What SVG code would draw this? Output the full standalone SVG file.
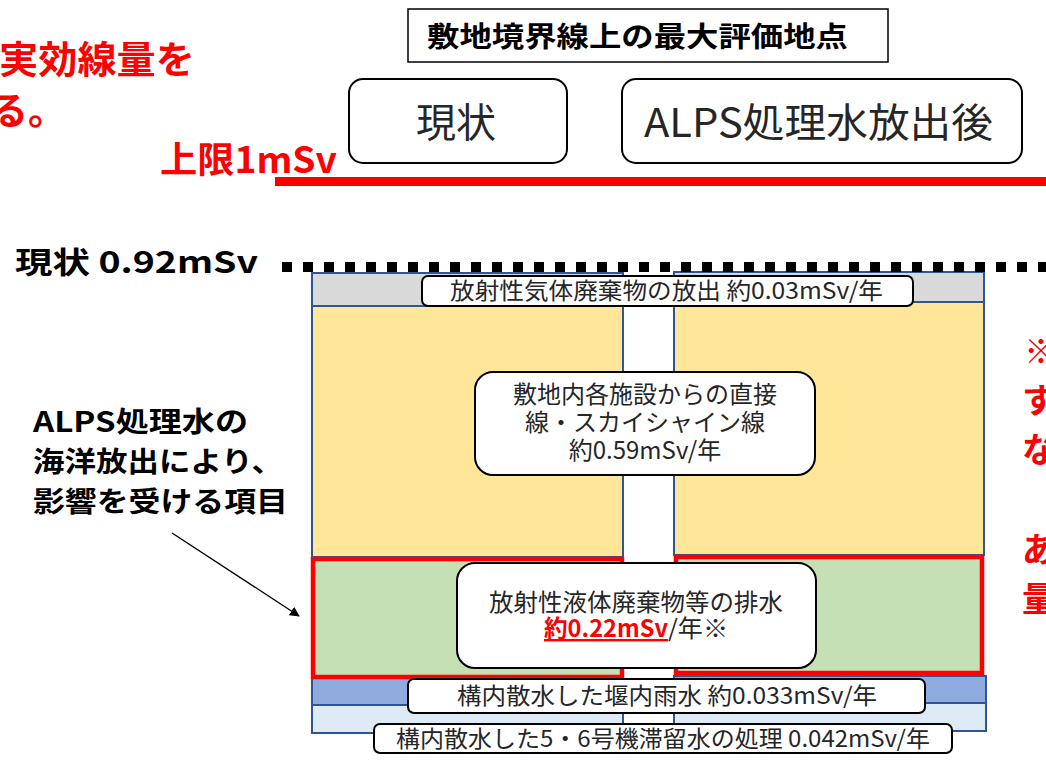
<svg xmlns="http://www.w3.org/2000/svg" width="1046" height="763" viewBox="0 0 1046 763">
<style>
text{font-family:"Noto Sans CJK JP","Noto Sans",sans-serif;}
.red{fill:#FF0000;font-weight:bold;}
.blk{fill:#000;font-weight:bold;}
.lbl{fill:#262626;}
.box{fill:#FFFFFF;stroke:#000;stroke-width:2;}
.col{stroke:#2F5597;stroke-width:2;}
.gray{fill:#D9D9D9;}
.yel{fill:#FFE699;}
.grn{fill:#C5E0B4;stroke:#FF0000;stroke-width:4.5;}
.blu{fill:#8FAADC;}
.lblu{fill:#DEEBF7;}
</style>
<defs>
<marker id="ah" markerWidth="10" markerHeight="10" refX="9" refY="5" orient="auto" markerUnits="userSpaceOnUse" viewBox="0 0 10 10">
<path d="M0,0 L10,5 L0,10 z" fill="#000"/>
</marker>
</defs>
<rect width="1046" height="763" fill="#FFFFFF"/>

<g id="note-top-left">
<text class="red" x="-1" y="73" font-size="38" textLength="196" lengthAdjust="spacingAndGlyphs">実効線量を</text>
<text class="red" x="-10" y="124" font-size="38">る。</text>
</g>

<g id="limit">
<text class="red" x="160" y="173" font-size="36" textLength="177" lengthAdjust="spacingAndGlyphs">上限1mSv</text>
<rect x="275" y="177" width="771" height="9" fill="#FF0000"/>
</g>

<g id="title">
<rect x="408" y="9" width="480" height="53" fill="#FFFFFF" stroke="#000" stroke-width="1.5"/>
<text class="blk" x="427" y="47" font-size="28" textLength="421" lengthAdjust="spacingAndGlyphs">敷地境界線上の最大評価地点</text>
</g>

<g id="head-current">
<rect class="box" x="349" y="79" width="218" height="84" rx="14"/>
<text x="456" y="137" font-size="40" fill="#262626" text-anchor="middle">現状</text>
</g>

<g id="head-after">
<rect class="box" x="622" y="79" width="400" height="84" rx="14"/>
<text x="644" y="137" font-size="40" fill="#262626" textLength="349" lengthAdjust="spacingAndGlyphs">ALPS処理水放出後</text>
</g>

<g id="current-level">
<text class="blk" x="15" y="273" font-size="30" textLength="243" lengthAdjust="spacingAndGlyphs">現状 0.92mSv</text>
</g>

<g id="col-left">
<rect class="col gray" x="312" y="273" width="311" height="33"/>
<rect class="col yel" x="312" y="306" width="311" height="251"/>
<rect class="col blu" x="312" y="678" width="311" height="27"/>
<rect class="col lblu" x="312" y="705" width="311" height="28"/>
<rect class="grn" x="313" y="559" width="309" height="118"/>
</g>

<g id="col-right">
<rect class="col gray" x="674" y="272" width="310" height="30"/>
<rect class="col yel" x="674" y="302" width="310" height="253"/>
<rect class="col blu" x="674" y="676" width="312" height="27"/>
<rect class="col lblu" x="674" y="703" width="312" height="28"/>
<rect class="grn" x="676" y="557" width="306" height="116"/>
</g>

<g id="connectors">
<line x1="282" y1="267" x2="1046" y2="267" stroke="#000" stroke-width="10" stroke-dasharray="10 11"/>
<line x1="172" y1="533" x2="299" y2="616" stroke="#000" stroke-width="1.3" marker-end="url(#ah)"/>
</g>

<g id="label-gas">
<rect class="box" x="422" y="276" width="491" height="30" rx="6"/>
<text class="lbl" x="450" y="299" font-size="23" textLength="433" lengthAdjust="spacingAndGlyphs">放射性気体廃棄物の放出 約0.03mSv/年</text>
</g>

<g id="label-direct">
<rect class="box" x="475" y="372" width="340" height="103" rx="18"/>
<text class="lbl" x="645" y="403" font-size="24" text-anchor="middle">敷地内各施設からの直接</text>
<text class="lbl" x="645" y="431" font-size="24" text-anchor="middle">線・スカイシャイン線</text>
<text class="lbl" x="645" y="459" font-size="24" text-anchor="middle">約0.59mSv/年</text>
</g>

<g id="label-liquid">
<rect class="box" x="457" y="563" width="359" height="105" rx="18"/>
<text class="lbl" x="489" y="611" font-size="24" textLength="294" lengthAdjust="spacingAndGlyphs">放射性液体廃棄物等の排水</text>
<text class="red" x="544" y="637" font-size="24" textLength="124" lengthAdjust="spacingAndGlyphs" text-decoration="underline">約0.22mSv</text>
<text class="lbl" x="668" y="637" font-size="24" textLength="60" lengthAdjust="spacingAndGlyphs">/年※</text>
</g>

<g id="label-rain">
<rect class="box" x="408" y="679" width="517" height="34" rx="6"/>
<text class="lbl" x="457" y="704" font-size="23" textLength="420" lengthAdjust="spacingAndGlyphs">構内散水した堰内雨水 約0.033mSv/年</text>
</g>

<g id="label-stagnant">
<rect class="box" x="374" y="724" width="578" height="29" rx="6"/>
<text class="lbl" x="396" y="747" font-size="23" textLength="534" lengthAdjust="spacingAndGlyphs">構内散水した5・6号機滞留水の処理 0.042mSv/年</text>
</g>

<g id="note-left">
<text class="blk" x="33" y="432" font-size="28" textLength="215" lengthAdjust="spacingAndGlyphs">ALPS処理水の</text>
<text class="blk" x="33" y="472" font-size="28" textLength="250" lengthAdjust="spacingAndGlyphs">海洋放出により、</text>
<text class="blk" x="33" y="512" font-size="28" textLength="255" lengthAdjust="spacingAndGlyphs">影響を受ける項目</text>
</g>

<g id="note-right">
<text class="red" x="1024" y="364" font-size="34">※</text>
<text class="red" x="1022" y="413" font-size="34">す</text>
<text class="red" x="1022" y="462" font-size="34">な</text>
<text class="red" x="1022" y="562" font-size="34">あ</text>
<text class="red" x="1022" y="611" font-size="34">量</text>
</g>
</svg>
